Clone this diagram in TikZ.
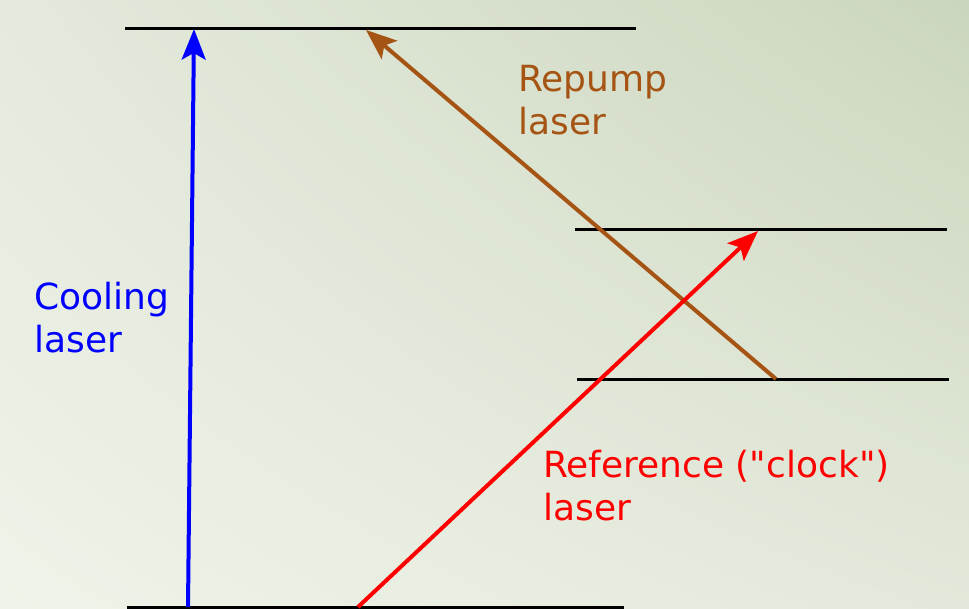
\documentclass[tikz,border=0pt]{standalone}
\usepackage{fontspec}
\setmainfont{DejaVu Sans}[Ligatures=TeXOff]
\usetikzlibrary{arrows.meta,shadings}
\definecolor{repump}{RGB}{166,84,20}
\definecolor{bglowleft}{RGB}{239,243,233}
\definecolor{bgupleft}{RGB}{228,234,220}
\definecolor{bglowright}{RGB}{227,233,218}
\definecolor{bgupright}{RGB}{203,214,190}
\begin{document}
\begin{tikzpicture}[x=0.75pt, y=-0.75pt,
    level/.style={line width=2.25pt, black},
    laser/.style={line width=3pt, -{Stealth[length=23pt, width=18pt, inset=5pt]}},
    lbl/.style={anchor=north west, inner sep=0pt, align=left,
                font=\fontsize{27}{32.5}\selectfont}]
    % Background
    \shade[lower left=bglowleft, upper left=bgupleft,
           lower right=bglowright, upper right=bgupright] (0,0) rectangle (969,609);
    \useasboundingbox (0,0) rectangle (969,609);

    % Energy levels
    \coordinate (topL) at (125,29);  \coordinate (topR) at (636,29);
    \coordinate (upL)  at (575,230); \coordinate (upR)  at (947,230);
    \coordinate (lowL) at (577,379); \coordinate (lowR) at (949,379);
    \coordinate (gndL) at (127,607); \coordinate (gndR) at (624,607);
    \draw[level] (topL) -- (topR);
    \draw[level] (upL) -- (upR);
    \draw[level] (lowL) -- (lowR);
    \draw[level] (gndL) -- (gndR);

    % Laser transitions
    \coordinate (coolA) at (188,607); \coordinate (coolB) at (194,29);
    \coordinate (repA)  at (776,379); \coordinate (repB)  at (366,30);
    \coordinate (refA)  at (358,607); \coordinate (refB)  at (758,231);
    \draw[laser, blue] (coolA) -- (coolB);
    \draw[laser, repump] (repA) -- (repB);
    \draw[laser, red] (refA) -- (refB);

    % Labels
    \node[lbl, text=blue] (cool) at (34,282) {Cooling\\laser};
    \node[lbl, text=repump] (rep) at (518,65) {Repump\\laser};
    \node[lbl, text=red] (ref) at (543,450) {Reference ("clock")\\laser};
\end{tikzpicture}
\end{document}
